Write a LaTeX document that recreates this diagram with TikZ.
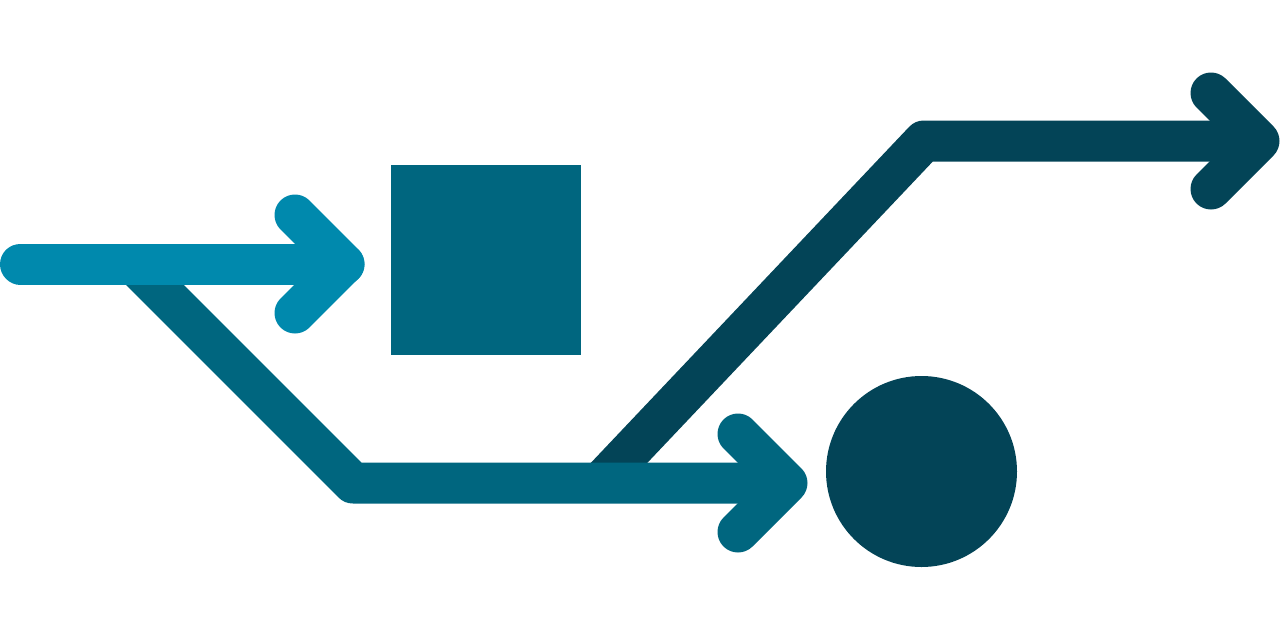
\documentclass[tikz,border=0pt]{standalone}
\definecolor{lightteal}{HTML}{0089AD}
\definecolor{midteal}{HTML}{00667F}
\definecolor{darkteal}{HTML}{034457}
\tikzset{
  flow/.style={line width=41pt,line join=round},
  chevron/.style={line width=41pt,line cap=round,line join=round},
  shapebox/.style={inner sep=0pt,outer sep=0pt,minimum size=190pt},
}
\begin{document}
\begin{tikzpicture}[x=1pt,y=-1pt]
  \useasboundingbox (0,0) rectangle (1280,640);
  % dark path, up to the right
  \begin{scope}
    \coordinate (d0) at (600,483);
    \coordinate (d1) at (924,141);
    \coordinate (d2) at (1259,141);
    \path[draw=darkteal,flow] (d0) -- (d1) -- (d2);
    \path[draw=darkteal,chevron] (1211,93) -- (d2) -- (1211,189);
  \end{scope}
  % middle path, down and on to the circle
  \begin{scope}
    \coordinate (m0) at (134,264);
    \coordinate (m1) at (353,483);
    \coordinate (m2) at (787,483);
    \path[draw=midteal,flow] (m0) -- (m1) -- (m2);
    \path[draw=midteal,chevron] (738,434) -- (m2) -- (738,532);
  \end{scope}
  % light path, on to the square
  \begin{scope}
    \coordinate (l0) at (20.5,264);
    \coordinate (l1) at (344,264);
    \path[draw=lightteal,chevron] (l0) -- (l1);
    \path[draw=lightteal,chevron] (295,215) -- (l1) -- (295,313);
  \end{scope}
  \node[shapebox,fill=midteal] (box) at (486,260) {};
  \node[shapebox,fill=darkteal,circle,minimum size=191pt] (dot) at (921.5,471.5) {};
\end{tikzpicture}
\end{document}
